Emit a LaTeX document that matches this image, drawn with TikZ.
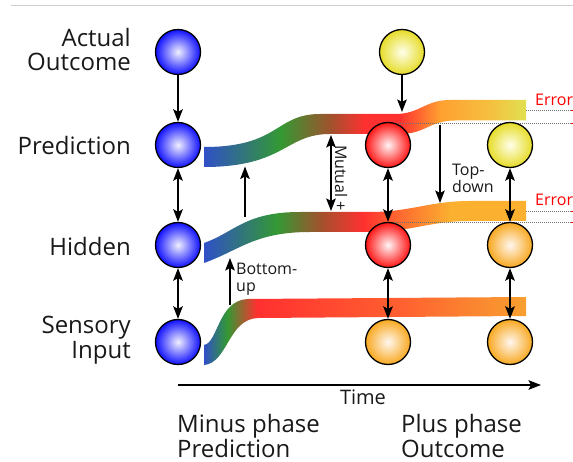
\documentclass[tikz,border=0pt]{standalone}
\usepackage{fontspec}
\setmainfont{Open Sans}
\usetikzlibrary{arrows.meta}
\definecolor{bandblue}{HTML}{3050C8}
\definecolor{bandgreen}{HTML}{339933}
\definecolor{bandbrown}{HTML}{A0522D}
\definecolor{bandred}{HTML}{FF3030}
\definecolor{bandredor}{HTML}{FF6A30}
\definecolor{bandorange}{HTML}{FFA030}
\definecolor{bandyo}{HTML}{F5C040}
\definecolor{bandyellow}{HTML}{E0E050}
\definecolor{bandorB}{HTML}{FBB030}
\definecolor{bandorC}{HTML}{F8A030}
\definecolor{sensred}{HTML}{FF6030}
\definecolor{ballB}{HTML}{1010FF}
\definecolor{ballR}{HTML}{FF1515}
\definecolor{ballY}{HTML}{E6DC28}
\definecolor{ballO}{HTML}{F8A820}
\definecolor{errred}{HTML}{FF0000}
\definecolor{dotgray}{HTML}{707070}
\definecolor{topgray}{HTML}{D0D0D0}
\pgfdeclarehorizontalshading{predband}{100bp}{color(0bp)=(bandblue); color(25bp)=(bandblue); color(36.8bp)=(bandgreen); color(44.6bp)=(bandbrown); color(50bp)=(bandred); color(55.4bp)=(bandred); color(61.6bp)=(bandorange); color(69.4bp)=(bandyo); color(75bp)=(bandyellow); color(100bp)=(bandyellow)}
\pgfdeclarehorizontalshading{hidband}{100bp}{color(0bp)=(bandblue); color(25bp)=(bandblue); color(36.3bp)=(bandgreen); color(43bp)=(bandbrown); color(49.7bp)=(bandred); color(55.4bp)=(bandredor); color(63.2bp)=(bandorB); color(75bp)=(bandorB); color(100bp)=(bandorB)}
\pgfdeclarehorizontalshading{sensband}{100bp}{color(0bp)=(bandblue); color(25bp)=(bandblue); color(28.6bp)=(bandgreen); color(33.2bp)=(bandred); color(55.4bp)=(sensred); color(75bp)=(bandorC); color(100bp)=(bandorC)}
\begin{document}
\begin{tikzpicture}[x=1pt,y=-1pt,
  ball/.style={circle, draw=black, line width=1.3pt, minimum size=45pt, inner sep=0pt},
  ballblue/.style={ball, inner color=blue!6!white, outer color=ballB},
  ballred/.style={ball, inner color=red!4!white, outer color=ballR},
  ballyellow/.style={ball, inner color=yellow!8!white, outer color=ballY},
  ballorange/.style={ball, inner color=orange!6!white, outer color=ballO},
  tip/.tip={Stealth[length=12.5pt,width=9.5pt,inset=2.5pt]},
  arr/.style={line width=2pt, -tip},
  darr/.style={line width=2pt, tip-tip},
  dots/.style={draw=dotgray, line width=0.8pt, dash pattern=on 1pt off 1pt},
  errtick/.style={draw=errred, line width=0.8pt},
  biglbl/.style={font=\fontsize{24}{24.5}\selectfont, inner sep=0pt, text=black!90},
  smalllbl/.style={font=\fontsize{16}{17}\selectfont, inner sep=0pt, text=black!90},
  errlbl/.style={font=\fontsize{16}{17}\selectfont, inner sep=0pt, text=errred}
]
\useasboundingbox (0,0) rectangle (573,462);
% top rule
\coordinate (rl) at (11,6);
\coordinate (rr) at (573,6);
\draw[topgray, line width=1pt] (rl) -- (rr);

% bands
\shade[shading=predband] (204,147) .. controls (280,147) and (275,114) .. (320,114) -- (395,114) .. controls (420,114) and (425,100) .. (450,100) -- (526,100) -- (526,120.5) -- (455,120.5) .. controls (430,120.5) and (425,134) .. (400,134) -- (330,134) .. controls (285,134) and (285,167) .. (204,167) -- cycle;
\shade[shading=hidband] (204,243) .. controls (235,232) and (245,212) .. (300,212) -- (370,212) .. controls (410,212) and (430,201) .. (470,201) -- (526,201) -- (526,221) -- (470,221) .. controls (430,221) and (410,232) .. (370,232) -- (310,232) .. controls (255,232) and (240,250) .. (204,263) -- cycle;
\shade[shading=sensband] (204,345) .. controls (218,343) and (218,300) .. (248,299) -- (526,297) -- (526,316) -- (258,318) .. controls (228,319) and (228,363) .. (204,365) -- cycle;

% dotted error lines
\coordinate (e1a) at (526,110.5); \coordinate (e1b) at (570.5,110.5); \coordinate (e1c) at (573,110.5);
\coordinate (e2a) at (388,123.5); \coordinate (e2b) at (570.5,123.5); \coordinate (e2c) at (573,123.5);
\coordinate (e3a) at (526,211); \coordinate (e3b) at (570.5,211); \coordinate (e3c) at (573,211);
\coordinate (e4a) at (388,222); \coordinate (e4b) at (570.5,222); \coordinate (e4c) at (573,222);
\draw[dots] (e1a) -- (e1b);
\draw[dots] (e2a) -- (e2b);
\draw[dots] (e3a) -- (e3b);
\draw[dots] (e4a) -- (e4b);
\draw[errtick] (e1b) -- (e1c);
\draw[errtick] (e2b) -- (e2c);
\draw[errtick] (e3b) -- (e3c);
\draw[errtick] (e4b) -- (e4c);

% circles
\node[ballblue] (a1) at (178,52) {};
\node[ballblue] (p1) at (178,145) {};
\node[ballblue] (h1) at (178,245) {};
\node[ballblue] (s1) at (178,342) {};
\node[ballyellow] (a2) at (402,52) {};
\node[ballred] (p2) at (388,145) {};
\node[ballred] (h2) at (388,245) {};
\node[ballorange] (s2) at (388,342) {};
\node[ballyellow] (p3) at (510,145) {};
\node[ballorange] (h3) at (510,245) {};
\node[ballorange] (s3) at (510,342) {};

% connectors
\draw[arr] (a1) -- (p1);
\draw[darr] (p1) -- (h1);
\draw[darr] (h1) -- (s1);
\coordinate (a2end) at (402,112);
\draw[arr] (a2) -- (a2end);
\draw[darr] (p2) -- (h2);
\draw[darr] (h2) -- (s2);
\draw[darr] (p3) -- (h3);
\draw[darr] (h3) -- (s3);
\coordinate (upA) at (245,217);
\coordinate (upB) at (245,166.5);
\draw[arr] (upA) -- (upB);
\coordinate (buA) at (230,305);
\coordinate (buB) at (230,258);
\draw[arr] (buA) -- (buB);
\coordinate (muA) at (331,135);
\coordinate (muB) at (331,211);
\draw[darr] (muA) -- (muB);
\coordinate (tdA) at (440,125);
\coordinate (tdB) at (440,203);
\draw[arr] (tdA) -- (tdB);
\coordinate (tA) at (178,385);
\coordinate (tB) at (541,385);
\draw[arr] (tA) -- (tB);

% labels
\node[biglbl, anchor=east, align=right] (lA) at (131,49.6) {Actual\\Outcome};
\node[biglbl, anchor=east] (lP) at (131,146) {Prediction};
\node[biglbl, anchor=east] (lH) at (131,247) {Hidden};
\node[biglbl, anchor=east, align=right] (lS) at (131,340) {Sensory\\Input};
\node[font=\fontsize{20}{20}\selectfont, inner sep=0pt, text=black!90] (lT) at (363,397.5) {Time};
\node[biglbl, anchor=west, align=left] (lM) at (177,436) {Minus phase\\Prediction};
\node[biglbl, anchor=west, align=left] (lPl) at (401,436) {Plus phase\\Outcome};
\node[smalllbl, rotate=-90] (lMu) at (341,178) {Mutual +};
\node[smalllbl, anchor=west, align=left] (lTd) at (452,178) {Top-\\down};
\node[smalllbl, anchor=north west, align=left] (lBu) at (236,263) {Bottom-\\up};
\node[errlbl, anchor=base west] (er1) at (535,106) {Error};
\node[errlbl, anchor=base west] (er2) at (535,206) {Error};
\end{tikzpicture}
\end{document}
